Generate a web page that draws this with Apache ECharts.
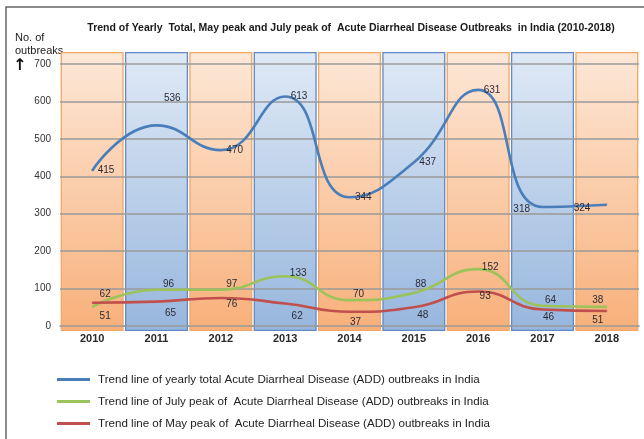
<!DOCTYPE html>
<html>
<head>
<meta charset="utf-8">
<script src="https://cdn.jsdelivr.net/npm/echarts@6/dist/echarts.min.js"></script>
<style>
  html, body { margin: 0; padding: 0; background: #fff; }
  #chart { width: 644px; height: 439px; }
</style>
</head>
<body>
<div id="chart"></div>
<script>
const years = ['2010', '2011', '2012', '2013', '2014', '2015', '2016', '2017', '2018']
// curve values
const yearlyTotal = [415, 536, 470, 613, 344, 437, 631, 318, 324]
const julyPeak = [51, 97, 97, 133, 69, 88, 152, 54, 51]
const mayPeak = [62, 65, 75, 60, 38, 50, 92, 44, 40]
// numbers printed next to the green (upper row) and red (lower row) curves
const julyLabels = ['62', '96', '97', '133', '70', '88', '152', '64', '38']
const mayLabels = ['51', '65', '76', '62', '37', '48', '93', '46', '51']
const yMin = 0
const yMax = 700
const yStep = 100

const names = [
  'Trend line of yearly total Acute Diarrheal Disease (ADD) outbreaks in India',
  'Trend line of July peak of  Acute Diarrheal Disease (ADD) outbreaks in India',
  'Trend line of May peak of  Acute Diarrheal Disease (ADD) outbreaks in India',
]

const font = 'Liberation Sans, Arial, sans-serif'
const labelColor = '#2b2b36'

const chart = echarts.init(document.getElementById('chart'))

const bandColor = (i) => i % 2 === 0
  ? new echarts.graphic.LinearGradient(0, 0, 0, 1, [
      { offset: 0, color: '#fde8d8' },
      { offset: 1, color: '#f8b07a' },
    ])
  : new echarts.graphic.LinearGradient(0, 0, 0, 1, [
      { offset: 0, color: '#e0eaf6' },
      { offset: 1, color: '#97b6dd' },
    ])

// hand placement of the value labels, like the original (dx, dy in px)
const blueNudge = { 1: [2, -27], 7: [-7, 2], 8: [-11, 4] }
const greenNudge = [[13, -5], [12, 2], [11, 2], [13, 5], [9, 2], [7, -1], [12, 6], [8, 2], [-9, 1]]
const redNudge = [[13, 6], [14, 4], [11, -1], [12, 5], [6, 3], [9, 0], [7, -3], [6, 0], [-9, 2]]

const nudge = (table) => (p) => {
  const d = table[p.dataIndex] || [0, 0]
  return { dx: d[0], dy: d[1] }
}

const lineSeries = (name, color, data, label, layout) => ({
  name, type: 'line', smooth: 0.5, z: 3,
  symbol: 'circle', symbolSize: 1, showSymbol: true,
  lineStyle: { color, width: 2.6 },
  itemStyle: { color },
  data,
  label: Object.assign({ show: true, fontSize: 10, color: labelColor, fontFamily: font }, label),
  labelLayout: layout,
})

const option = {
  backgroundColor: '#fff',
  animation: false,
  textStyle: { fontFamily: font },
  title: {
    text: 'Trend of Yearly  Total, May peak and July peak of  Acute Diarrheal Disease Outbreaks  in India (2010-2018)',
    left: 346, top: 18, textAlign: 'center',
    textStyle: { fontSize: 10.5, fontWeight: 'bold', color: '#1a1a1a', fontFamily: font },
  },
  graphic: [
    { type: 'rect', shape: { x: 6, y: 7, width: 700, height: 500 }, style: { fill: 'none', stroke: '#666', lineWidth: 1.5 }, silent: true },
    { type: 'text', left: 15, top: 31, style: { text: 'No. of\noutbreaks', font: '11px ' + font, fill: '#222', lineHeight: 13 } },
    { type: 'text', left: 13, top: 58, style: { text: '\u2191', font: 'bold 16px DejaVu Sans, sans-serif', fill: '#111' } },
  ],
  legend: {
    orient: 'vertical',
    left: 52, top: 368,
    itemWidth: 33, itemHeight: 3, itemGap: 9,
    icon: 'rect',
    data: names,
    textStyle: { fontSize: 11.6, color: '#222', fontFamily: font, lineHeight: 13, padding: [0, 0, 0, 3] },
  },
  grid: [
    { left: 60, right: 5, top: 64, bottom: 113 },
    { left: 60, right: 5, top: 52, bottom: 108 },
  ],
  xAxis: [
    {
      type: 'category', gridIndex: 0, data: years,
      axisLine: { lineStyle: { color: '#9a9a9a', width: 1.5 } },
      axisTick: { show: false },
      axisLabel: { color: '#2a2a2a', fontSize: 11, margin: 7, fontWeight: 'bold' },
    },
    { type: 'category', gridIndex: 1, data: years, show: false },
  ],
  yAxis: [
    {
      type: 'value', gridIndex: 0, min: yMin, max: yMax, interval: yStep, z: 1,
      axisLine: { show: false }, axisTick: { show: false },
      axisLabel: { color: '#333', fontSize: 10, margin: 9 },
      splitLine: { lineStyle: { color: '#9a9a9a', width: 1.5 } },
    },
    { type: 'value', gridIndex: 1, min: 0, max: 1, show: false },
  ],
  series: [
    {
      type: 'bar', xAxisIndex: 1, yAxisIndex: 1, z: 0, silent: true,
      barCategoryGap: '2%',
      data: years.map((y, i) => ({
        value: 1,
        itemStyle: { color: bandColor(i), borderColor: i % 2 === 0 ? '#f2a765' : '#5f8ac6', borderWidth: 1.3 },
      })),
    },
    lineSeries(names[0], '#4a7ebb',
      yearlyTotal.map((v, i) => (i >= 7 ? { value: v, label: { position: 'left' } } : v)),
      { position: 'right', distance: 5 }, nudge(blueNudge)),
    lineSeries(names[1], '#9bc35a', julyPeak,
      { position: 'top', distance: 2, formatter: (p) => julyLabels[p.dataIndex] }, nudge(greenNudge)),
    lineSeries(names[2], '#c0504d', mayPeak,
      { position: 'bottom', distance: 2, formatter: (p) => mayLabels[p.dataIndex] }, nudge(redNudge)),
  ],
}

chart.setOption(option)
</script>
</body>
</html>
